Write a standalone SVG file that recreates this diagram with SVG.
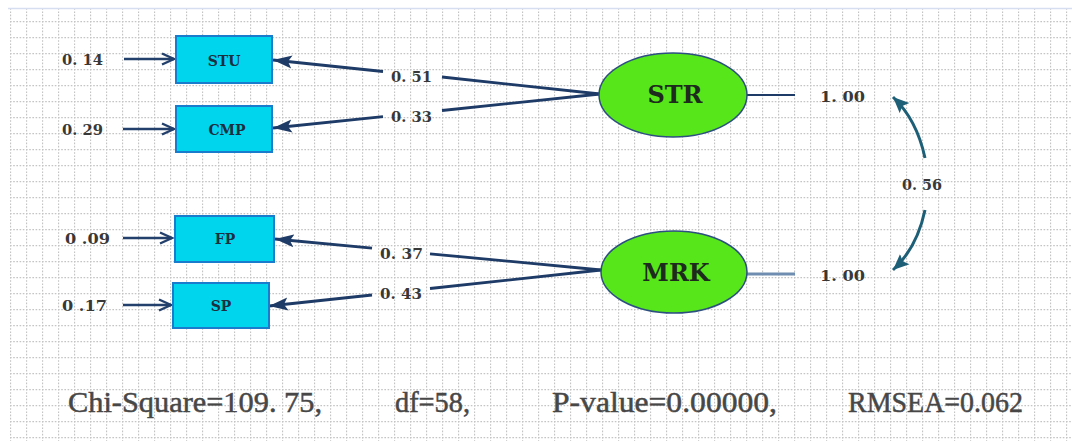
<svg xmlns="http://www.w3.org/2000/svg" width="1072" height="441" viewBox="0 0 1072 441">
  <style>
    .box { fill: #00d5ee; stroke: #1a7ccc; stroke-width: 2; }
    .ell { fill: #56e619; stroke: #2c4f80; stroke-width: 1.5; }
    .blabel { font-family: "DejaVu Serif", "Liberation Serif", serif; font-weight: bold; font-size: 14px; fill: #1b2f3f; text-anchor: middle; }
    .elabel { font-family: "DejaVu Serif", "Liberation Serif", serif; font-weight: bold; font-size: 24px; fill: #1d2a1d; text-anchor: middle; }
    .num { font-family: "DejaVu Serif", "Liberation Serif", serif; font-weight: bold; font-size: 15px; fill: #383838; }
    .stat { font-family: "Liberation Serif", "DejaVu Serif", serif; font-size: 30px; fill: #474747; stroke: #474747; stroke-width: 0.5; }
    .load { fill: none; stroke: #1e3a66; stroke-width: 2.8; }
    .err { fill: none; stroke: #23406c; stroke-width: 2.6; }
    .cor { fill: none; stroke: #1e5f78; stroke-width: 3; }
  </style>
  <defs>
    <pattern id="grid" patternUnits="userSpaceOnUse" x="10" y="5" width="16" height="16">
      <line x1="0" y1="0.5" x2="16" y2="0.5" stroke="#c4c4c4" stroke-width="1.3" stroke-dasharray="1.6 1.6"/>
      <line x1="0.5" y1="0" x2="0.5" y2="16" stroke="#c4c4c4" stroke-width="1.3" stroke-dasharray="1.6 1.6"/>
    </pattern>
    <marker id="tri" markerUnits="userSpaceOnUse" markerWidth="20" markerHeight="14" refX="19" refY="7" orient="auto">
      <path d="M0,0.5 L19,7 L0,13.5 L4,7 z" fill="#1e3a66"/>
    </marker>
    <marker id="open" markerUnits="userSpaceOnUse" markerWidth="16" markerHeight="14" refX="13" refY="7" orient="auto">
      <path d="M1,1.5 L13,7 L1,12.5" fill="none" stroke="#23406c" stroke-width="2.4"/>
    </marker>
    <marker id="teal" markerUnits="userSpaceOnUse" markerWidth="17" markerHeight="15" refX="16" refY="7.5" orient="auto">
      <path d="M0,0.5 L16,7.5 L0,14.5 L3,7.5 z" fill="#1e5f78"/>
    </marker>
  </defs>

  <rect x="0" y="0" width="1072" height="441" fill="#ffffff"/>
  <rect x="9" y="8" width="1063" height="433" fill="url(#grid)"/>
  <line x1="8" y1="8.5" x2="1072" y2="8.5" stroke="#d6def2" stroke-width="1.5"/>

  <g id="connectors">
    <!-- loadings -->
    <line class="load" x1="600" y1="94" x2="442" y2="77"/>
    <line class="load" x1="383" y1="71.5" x2="273" y2="60" marker-end="url(#tri)"/>
    <line class="load" x1="600" y1="94" x2="442" y2="110.5"/>
    <line class="load" x1="383" y1="116.7" x2="273" y2="128" marker-end="url(#tri)"/>
    <line class="load" x1="601" y1="270" x2="430" y2="253.8"/>
    <line class="load" x1="372" y1="248.2" x2="275" y2="239" marker-end="url(#tri)"/>
    <line class="load" x1="601" y1="270" x2="430" y2="288.5"/>
    <line class="load" x1="372" y1="295" x2="269" y2="306" marker-end="url(#tri)"/>
    <!-- error arrows -->
    <line class="err" x1="124" y1="59" x2="174" y2="59" marker-end="url(#open)"/>
    <line class="err" x1="123" y1="129" x2="174" y2="129" marker-end="url(#open)"/>
    <line class="err" x1="123" y1="238" x2="172" y2="238" marker-end="url(#open)"/>
    <line class="err" x1="123" y1="305" x2="171" y2="305" marker-end="url(#open)"/>
    <!-- variance lines -->
    <line x1="747" y1="95" x2="795" y2="95" stroke="#1e3a66" stroke-width="2"/>
    <line x1="747" y1="274" x2="795" y2="274" stroke="#6f8db0" stroke-width="3"/>
    <!-- correlation -->
    <path class="cor" d="M925,158 Q917,120 893,97" marker-end="url(#teal)"/>
    <path class="cor" d="M925,210 Q917,248 893,270" marker-end="url(#teal)"/>
  </g>

  <g id="STU">
    <rect class="box" x="176" y="36" width="96" height="47"/>
    <text class="blabel" x="224" y="66">STU</text>
  </g>
  <g id="CMP">
    <rect class="box" x="176" y="106" width="96" height="46"/>
    <text class="blabel" x="227" y="135">CMP</text>
  </g>
  <g id="FP">
    <rect class="box" x="175" y="216" width="99" height="46"/>
    <text class="blabel" x="225" y="244">FP</text>
  </g>
  <g id="SP">
    <rect class="box" x="173" y="283" width="96" height="45"/>
    <text class="blabel" x="221" y="311">SP</text>
  </g>
  <g id="STR">
    <ellipse class="ell" cx="673" cy="95" rx="74" ry="42"/>
    <text class="elabel" x="675" y="103">STR</text>
  </g>
  <g id="MRK">
    <ellipse class="ell" cx="674" cy="272" rx="73" ry="41"/>
    <text class="elabel" x="676" y="281">MRK</text>
  </g>

  <g id="labels">
    <text class="num" x="62" y="65" textLength="41" lengthAdjust="spacingAndGlyphs">0. 14</text>
    <text class="num" x="62" y="135" textLength="41" lengthAdjust="spacingAndGlyphs">0. 29</text>
    <text class="num" x="65" y="244" textLength="45" lengthAdjust="spacingAndGlyphs">0 .09</text>
    <text class="num" x="62" y="311" textLength="45" lengthAdjust="spacingAndGlyphs">0 .17</text>
    <text class="num" x="391" y="82" textLength="41" lengthAdjust="spacingAndGlyphs">0. 51</text>
    <text class="num" x="391" y="122" textLength="41" lengthAdjust="spacingAndGlyphs">0. 33</text>
    <text class="num" x="380" y="259" textLength="43" lengthAdjust="spacingAndGlyphs">0. 37</text>
    <text class="num" x="380" y="299" textLength="42" lengthAdjust="spacingAndGlyphs">0. 43</text>
    <text class="num" x="820" y="102" textLength="45" lengthAdjust="spacingAndGlyphs">1. 00</text>
    <text class="num" x="820" y="281" textLength="45" lengthAdjust="spacingAndGlyphs">1. 00</text>
    <text class="num" x="902" y="190" textLength="40" lengthAdjust="spacingAndGlyphs">0. 56</text>
  </g>

  <g id="stats">
    <text class="stat" x="68" y="412" textLength="254" lengthAdjust="spacingAndGlyphs">Chi-Square=109. 75,</text>
    <text class="stat" x="395" y="412" textLength="75" lengthAdjust="spacingAndGlyphs">df=58,</text>
    <text class="stat" x="552" y="412" textLength="225" lengthAdjust="spacingAndGlyphs">P-value=0.00000,</text>
    <text class="stat" x="848" y="412" textLength="175" lengthAdjust="spacingAndGlyphs">RMSEA=0.062</text>
  </g>
</svg>
